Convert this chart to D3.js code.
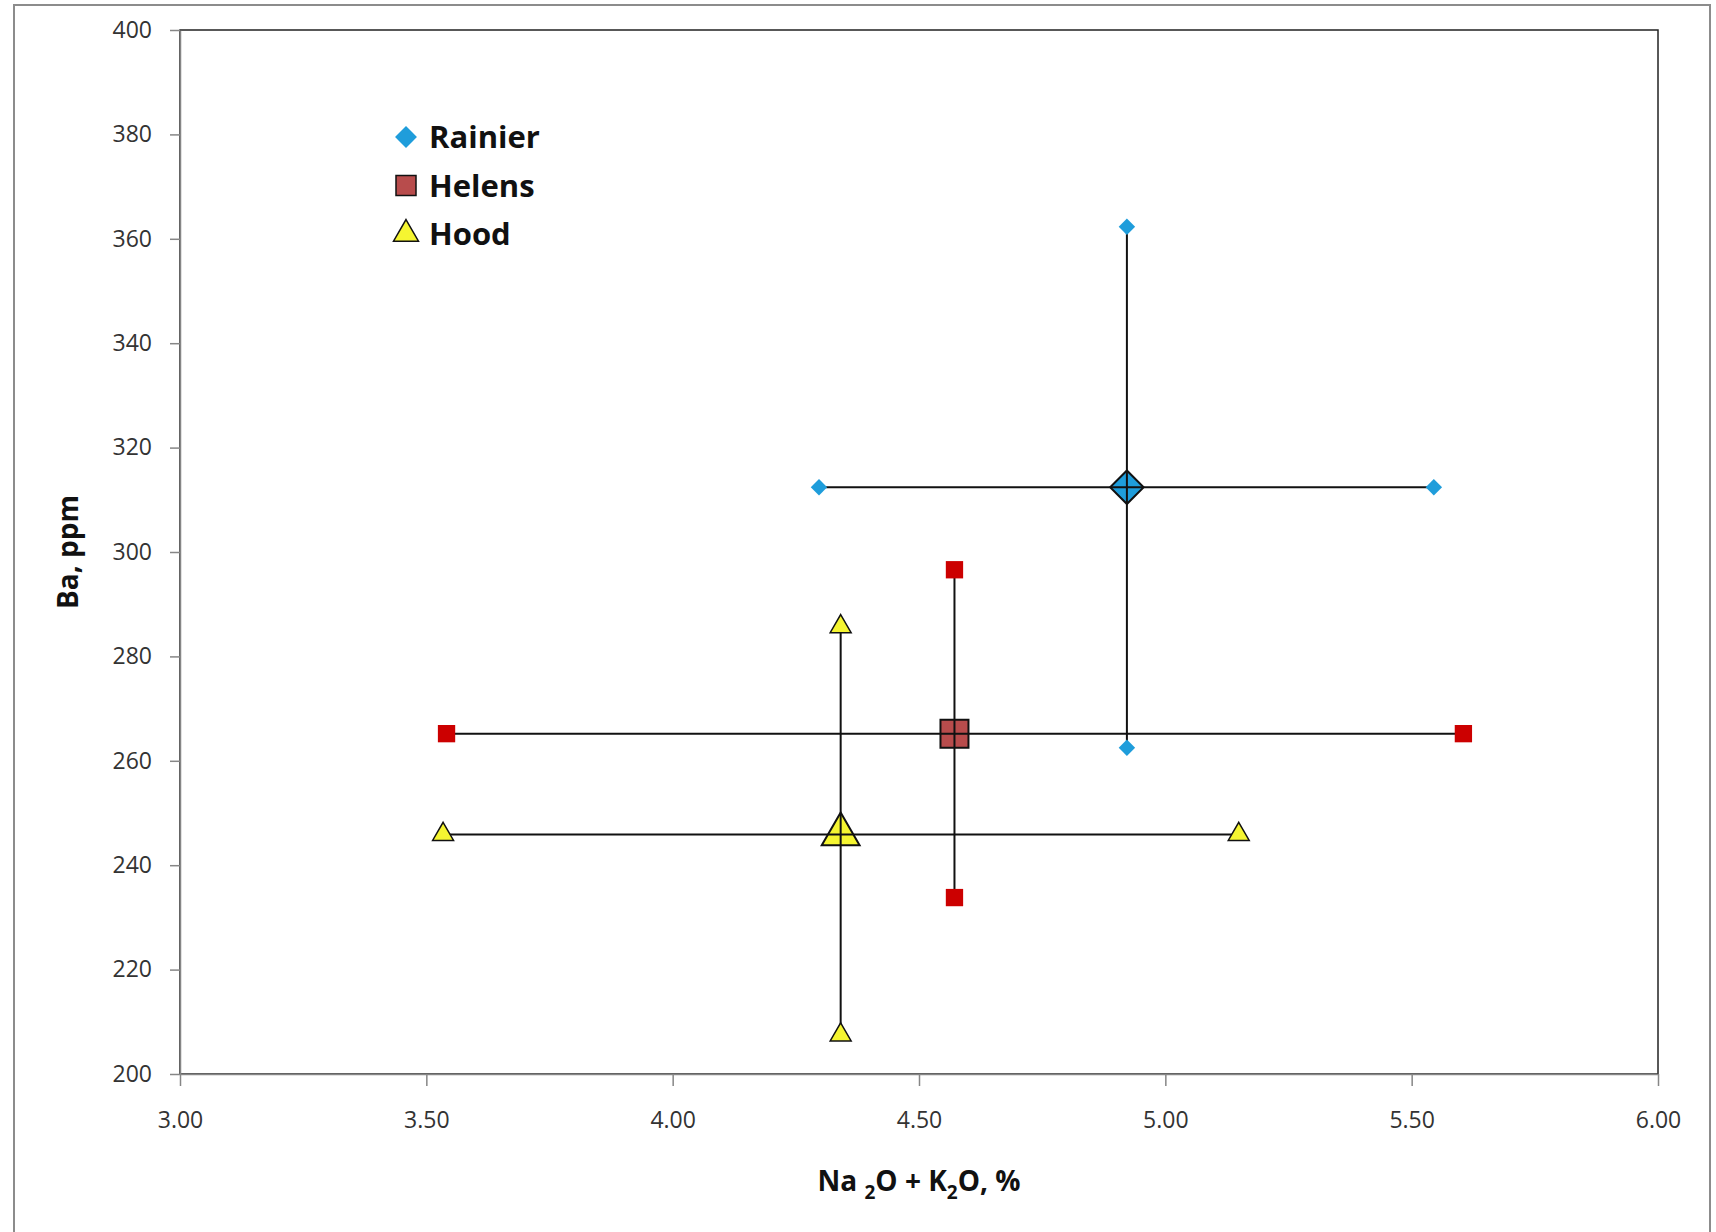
<!DOCTYPE html>
<html>
<head>
<meta charset="utf-8">
<script src="https://cdn.jsdelivr.net/npm/d3@7"></script>
<style>
body { margin: 0; background: #fff; }
svg { display: block; font-family: "Liberation Sans", Arial, sans-serif; }
</style>
</head>
<body>
<svg></svg>
<script>
// series: centre point and the ends of the error bars
let names = ['Rainier', 'Helens', 'Hood']
let centerX = [4.922, 4.572, 4.341]
let centerY = [312.4, 265.2, 245.9]
let xLow = [4.297, 3.541, 3.534]
let xHigh = [5.545, 5.605, 5.149]
let yLow = [262.5, 233.8, 207.5]
let yHigh = [362.3, 296.6, 285.7]

let xTicks = [3.0, 3.5, 4.0, 4.5, 5.0, 5.5, 6.0]
let yTicks = [200, 220, 240, 260, 280, 300, 320, 340, 360, 380, 400]

let width = 1716
let height = 1232
let plotLeft = 180, plotRight = 1658, plotTop = 30, plotBottom = 1074

let svg = d3.select('svg').attr('width', width).attr('height', height)

// outer chart border
svg.append('rect')
    .attr('x', 14).attr('y', 5)
    .attr('width', 1696).attr('height', 1250)
    .attr('fill', 'none').attr('stroke', '#8c8c8c').attr('stroke-width', 2)

let xScale = d3.scaleLinear().domain([3, 6]).range([plotLeft, plotRight])
let yScale = d3.scaleLinear().domain([200, 400]).range([plotBottom, plotTop])

// plot area frame
svg.append('rect')
    .attr('x', plotLeft).attr('y', plotTop)
    .attr('width', plotRight - plotLeft).attr('height', plotBottom - plotTop)
    .attr('fill', 'none').attr('stroke', '#222').attr('stroke-width', 1.5)

let xAxis = d3.axisBottom(xScale).tickValues(xTicks).tickFormat(d3.format('.2f'))
    .tickSizeInner(12).tickSizeOuter(0).tickPadding(26)
let yAxis = d3.axisLeft(yScale).tickValues(yTicks)
    .tickSizeInner(10).tickSizeOuter(0).tickPadding(18)

let gx = svg.append('g').attr('transform', 'translate(0,' + plotBottom + ')').call(xAxis)
let gy = svg.append('g').attr('transform', 'translate(' + plotLeft + ',0)').call(yAxis)

;[gx, gy].forEach(g => {
    g.selectAll('path, line').attr('stroke', '#868686').attr('stroke-width', 1.5)
    g.selectAll('text').attr('fill', '#333').style('font-size', '23px')
        .style('font-family', '"Open Sans", sans-serif')
})

// marker shapes
let colors = ['#1f9ddb', '#b84c4c', '#f5f531']
let smallColors = ['#1f9ddb', '#cc0000', '#f5f531']
let bigSymbols = [
    d3.symbol().type(d3.symbolSquare).size(560),
    d3.symbol().type(d3.symbolSquare).size(784),
    d3.symbol().type(d3.symbolTriangle).size(620)
]
let smallSymbols = [
    d3.symbol().type(d3.symbolSquare).size(135),
    d3.symbol().type(d3.symbolSquare).size(300),
    d3.symbol().type(d3.symbolTriangle).size(190)
]
let rot = [45, 0, 0]

// big centre markers
names.forEach((n, i) => {
    svg.append('path')
        .attr('d', bigSymbols[i]())
        .attr('transform', 'translate(' + xScale(centerX[i]) + ',' + yScale(centerY[i]) + ') rotate(' + rot[i] + ')')
        .attr('fill', colors[i]).attr('stroke', '#111').attr('stroke-width', 2)
})

// error bars
names.forEach((n, i) => {
    svg.append('line')
        .attr('x1', xScale(xLow[i])).attr('x2', xScale(xHigh[i]))
        .attr('y1', yScale(centerY[i])).attr('y2', yScale(centerY[i]))
        .attr('stroke', '#111').attr('stroke-width', 2)
    svg.append('line')
        .attr('x1', xScale(centerX[i])).attr('x2', xScale(centerX[i]))
        .attr('y1', yScale(yLow[i])).attr('y2', yScale(yHigh[i]))
        .attr('stroke', '#111').attr('stroke-width', 2)
})

// end markers
names.forEach((n, i) => {
    let ends = [
        [xLow[i], centerY[i]], [xHigh[i], centerY[i]],
        [centerX[i], yLow[i]], [centerX[i], yHigh[i]]
    ]
    svg.selectAll('.end' + i)
        .data(ends)
        .enter()
        .append('path')
        .attr('class', 'end' + i)
        .attr('d', smallSymbols[i]())
        .attr('transform', d => 'translate(' + xScale(d[0]) + ',' + yScale(d[1]) + ') rotate(' + rot[i] + ')')
        .attr('fill', smallColors[i])
        .attr('stroke', i == 2 ? '#111' : 'none').attr('stroke-width', 1.5)
})

// legend
let legendSymbols = [
    d3.symbol().type(d3.symbolSquare).size(240),
    d3.symbol().type(d3.symbolSquare).size(400),
    d3.symbol().type(d3.symbolTriangle).size(270)
]
let legend = svg.append('g')
names.forEach((n, i) => {
    let y = 137 + i * 48.5
    legend.append('path')
        .attr('d', legendSymbols[i]())
        .attr('transform', 'translate(406,' + y + ') rotate(' + rot[i] + ')')
        .attr('fill', colors[i])
        .attr('stroke', i == 0 ? 'none' : '#111').attr('stroke-width', 1.5)
    legend.append('text')
        .attr('x', 429).attr('y', y + 11)
        .style('font-size', '31px').style('font-weight', 'bold')
        .style('font-family', '"Open Sans", sans-serif')
        .attr('fill', '#111')
        .text(n)
})

// axis titles
svg.append('text')
    .attr('transform', 'translate(78,' + ((plotTop + plotBottom) / 2) + ') rotate(-90)')
    .attr('text-anchor', 'middle')
    .style('font-size', '28px').style('font-weight', 'bold')
    .style('font-family', '"Open Sans", sans-serif')
    .attr('fill', '#111')
    .text('Ba, ppm')

let xt = svg.append('text')
    .attr('x', (plotLeft + plotRight) / 2).attr('y', 1191)
    .attr('text-anchor', 'middle')
    .style('font-size', '28px').style('font-weight', 'bold')
    .style('font-family', '"Open Sans", sans-serif')
    .attr('fill', '#111')
xt.append('tspan').text('Na ')
xt.append('tspan').attr('dy', 8).style('font-size', '19px').text('2')
xt.append('tspan').attr('dy', -8).text('O + K')
xt.append('tspan').attr('dy', 8).style('font-size', '19px').text('2')
xt.append('tspan').attr('dy', -8).text('O, %')
</script>
</body>
</html>
